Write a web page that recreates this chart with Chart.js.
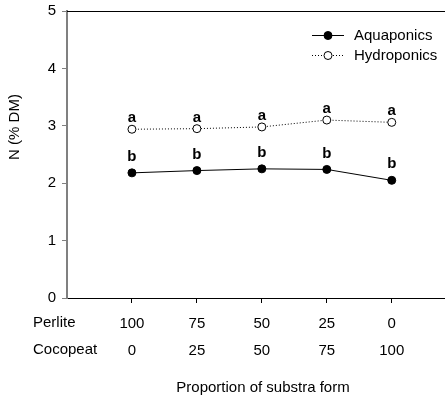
<!DOCTYPE html>
<html>
<head>
<meta charset="utf-8">
<script src="https://cdn.jsdelivr.net/npm/chart.js@4.4.1/dist/chart.umd.min.js"></script>
<style>
  html, body { margin: 0; padding: 0; background: #fff; }
  #wrap { width: 445px; height: 396px; position: relative; }
</style>
</head>
<body>
<div id="wrap"><canvas id="chart"></canvas></div>
<script>
  // data
  const xPos = [1, 2, 3, 4, 5];
  const perlite = ["100", "75", "50", "25", "0"];
  const cocopeat = ["0", "25", "50", "75", "100"];
  const aquaponics = [2.18, 2.22, 2.25, 2.24, 2.05];
  const hydroponics = [2.94, 2.95, 2.98, 3.10, 3.06];
  const aquaLetters = ["b", "b", "b", "b", "b"];
  const hydroLetters = ["a", "a", "a", "a", "a"];
  const yTicks = [0, 1, 2, 3, 4, 5];

  const FONT = "'Liberation Sans', Arial, sans-serif";

  const extras = {
    id: "extras",
    afterDatasetsDraw(chart) {
      const ctx = chart.ctx;
      const area = chart.chartArea;
      ctx.save();

      // top frame line
      ctx.strokeStyle = "#000";
      ctx.lineWidth = 1;
      ctx.beginPath();
      ctx.moveTo(area.left, area.top + 0.5);
      ctx.lineTo(chart.width, area.top + 0.5);
      ctx.stroke();

      // significance letters
      ctx.fillStyle = "#000";
      ctx.font = "bold 15px " + FONT;
      ctx.textAlign = "center";
      ctx.textBaseline = "middle";
      const letterSets = [[0, aquaLetters, 16], [1, hydroLetters, 11]];
      letterSets.forEach(([di, letters, off]) => {
        const meta = chart.getDatasetMeta(di);
        meta.data.forEach((pt, i) => {
          ctx.fillText(letters[i], pt.x, pt.y - off);
        });
      });

      // legend
      ctx.font = "15px " + FONT;
      ctx.textAlign = "left";
      chart.data.datasets.forEach((ds, i) => {
        const y = 35 + i * 20;
        ctx.strokeStyle = ds.borderColor;
        ctx.lineWidth = ds.borderWidth;
        ctx.setLineDash(ds.borderDash || []);
        ctx.beginPath();
        ctx.moveTo(312, y + 0.5);
        ctx.lineTo(344, y + 0.5);
        ctx.stroke();
        ctx.setLineDash([]);
        ctx.beginPath();
        ctx.arc(328, y + 0.5, 4, 0, Math.PI * 2);
        ctx.fillStyle = ds.pointBackgroundColor;
        ctx.fill();
        ctx.strokeStyle = ds.pointBorderColor;
        ctx.lineWidth = 1;
        ctx.stroke();
        ctx.fillStyle = "#000";
        ctx.fillText(ds.label, 354, y + 1);
      });

      // row headers under the x axis
      ctx.fillText("Perlite", 33, 323);
      ctx.fillText("Cocopeat", 33, 350);

      // axis titles
      ctx.textAlign = "center";
      ctx.fillText("Proportion of substra form", 263, 388);
      ctx.translate(15, 127);
      ctx.rotate(-Math.PI / 2);
      ctx.fillText("N (% DM)", 0, 0);
      ctx.restore();
    }
  };

  new Chart(document.getElementById("chart"), {
    type: "line",
    data: {
      datasets: [
        {
          label: "Aquaponics",
          data: xPos.map((x, i) => ({ x, y: aquaponics[i] })),
          borderColor: "#000",
          borderWidth: 1,
          pointRadius: 4,
          pointBackgroundColor: "#000",
          pointBorderColor: "#000",
          pointBorderWidth: 1,
          tension: 0
        },
        {
          label: "Hydroponics",
          data: xPos.map((x, i) => ({ x, y: hydroponics[i] })),
          borderColor: "#000",
          borderWidth: 1,
          borderDash: [1, 2],
          pointRadius: 4,
          pointBackgroundColor: "#fff",
          pointBorderColor: "#000",
          pointBorderWidth: 1,
          tension: 0
        }
      ]
    },
    options: {
      responsive: true,
      maintainAspectRatio: false,
      animation: false,
      events: [],
      layout: { autoPadding: false, padding: { top: 11, right: 0, left: 0, bottom: 0 } },
      plugins: {
        legend: { display: false },
        tooltip: { enabled: false }
      },
      scales: {
        x: {
          type: "linear",
          min: 0,
          max: 5.82,
          afterBuildTicks: s => { s.ticks = xPos.map(v => ({ value: v })); },
          afterFit: s => { s.height = 98; s.paddingLeft = 0; s.paddingRight = 0; },
          grid: { drawOnChartArea: false, tickLength: 5, color: "#000" },
          border: { color: "#000", width: 1 },
          ticks: {
            color: "#000",
            font: { family: FONT, size: 15, lineHeight: 1.8 },
            padding: 7,
            maxRotation: 0,
            callback: v => {
              const i = xPos.indexOf(v);
              return i < 0 ? "" : [perlite[i], cocopeat[i]];
            }
          }
        },
        y: {
          min: 0,
          max: 5,
          afterBuildTicks: s => { s.ticks = yTicks.map(v => ({ value: v })); },
          afterFit: s => { s.width = 67; s.paddingTop = 0; s.paddingBottom = 0; },
          grid: { drawOnChartArea: false, tickLength: 5, color: "#808080" },
          border: { color: "#808080", width: 2 },
          ticks: {
            color: "#000",
            font: { family: FONT, size: 15 },
            padding: 6
          }
        }
      }
    },
    plugins: [extras]
  });
</script>
</body>
</html>
